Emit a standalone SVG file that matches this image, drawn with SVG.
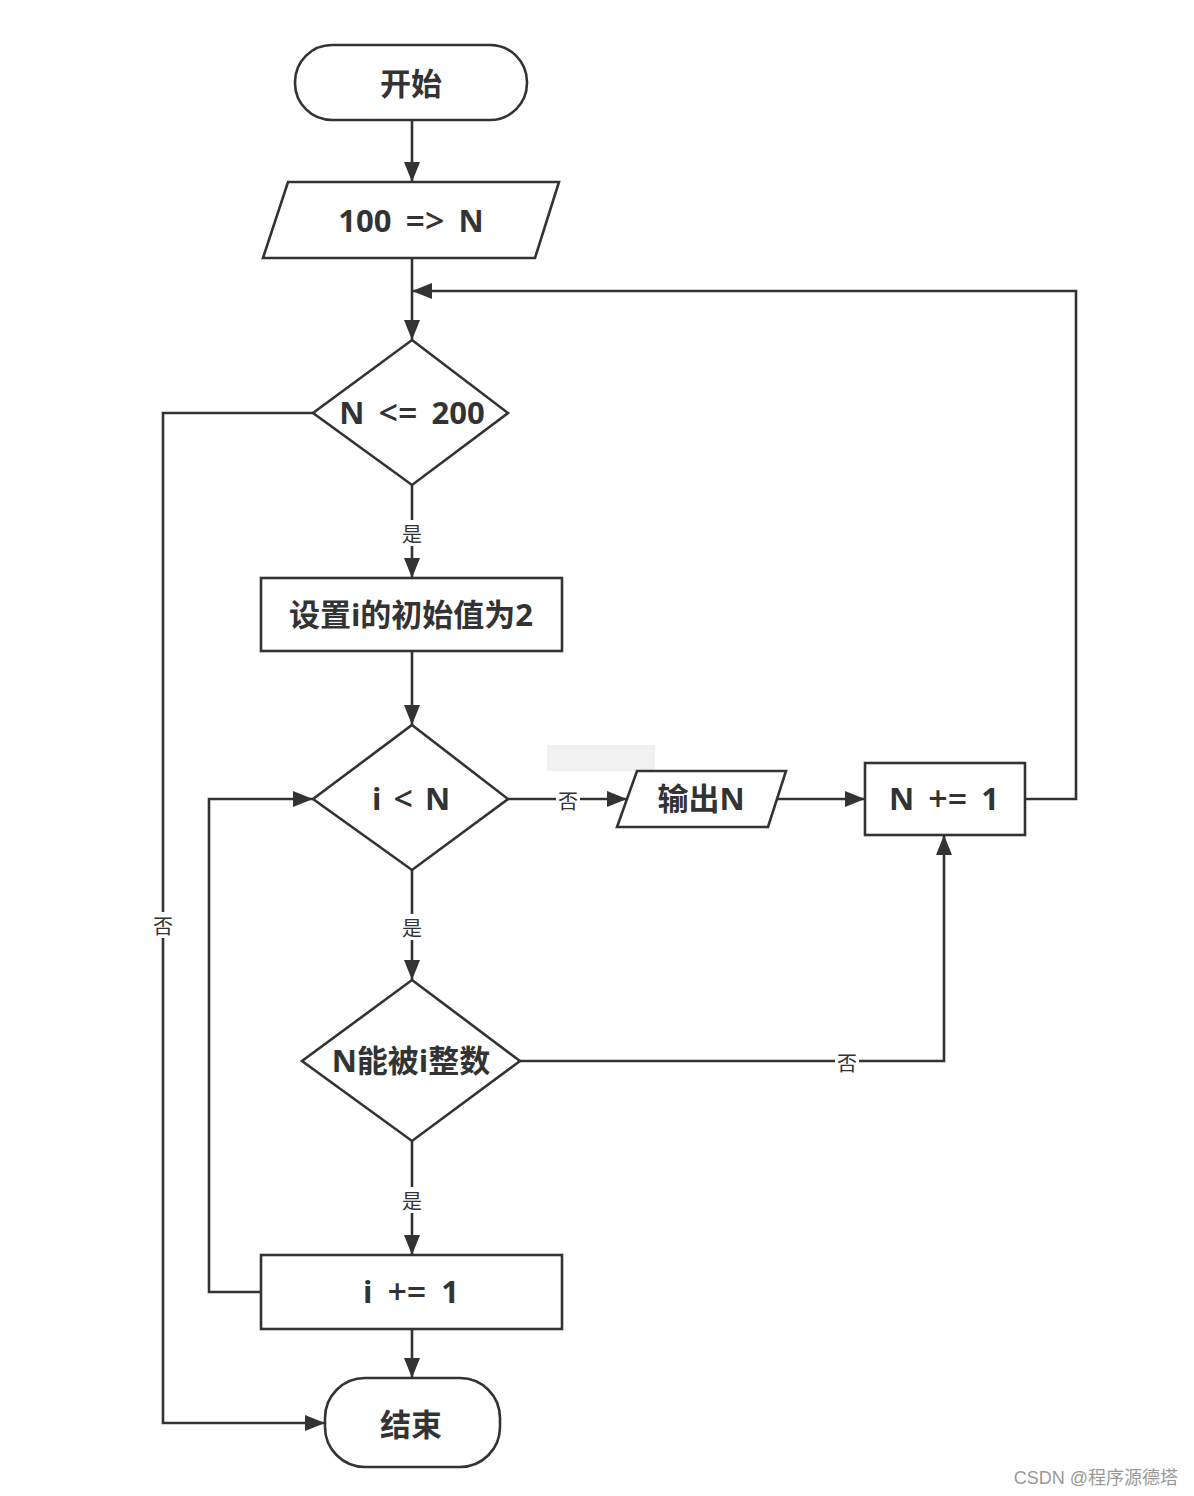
<svg xmlns="http://www.w3.org/2000/svg" width="1194" height="1496" viewBox="0 0 1194 1496">
<defs>
<marker id="arr" viewBox="0 0 20 16" refX="20" refY="8" markerWidth="20" markerHeight="16" markerUnits="userSpaceOnUse" orient="auto">
<path d="M0,0 L20,8 L0,16 Z" fill="#333"/>
</marker>
<style>
.shape{fill:#fff;stroke:#333;stroke-width:2.6}
.line{fill:none;stroke:#333;stroke-width:2.6}
.t{font-family:"Open Sans","Noto Sans CJK SC",sans-serif;font-weight:bold;font-size:31px;fill:#333;text-anchor:middle;dominant-baseline:central}
.op{font-weight:600;font-size:34px}
.lbl{font-family:"Noto Sans CJK SC",sans-serif;font-size:20px;fill:#333;text-anchor:middle;dominant-baseline:central}
.wm{font-family:"Liberation Sans","Noto Sans CJK SC",sans-serif;font-size:18px;fill:#999;text-anchor:end}
</style>
</defs>
<rect width="1194" height="1496" fill="#fff"/>
<g id="connectors">
<path class="line" d="M412,120 L412,182" marker-end="url(#arr)"/>
<path class="line" d="M412,258 L412,340" marker-end="url(#arr)"/>
<path class="line" d="M1025,799 L1076,799 L1076,291 L412,291" marker-end="url(#arr)"/>
<path class="line" d="M313,413 L163,413 L163,1423 L325,1423" marker-end="url(#arr)"/>
<path class="line" d="M412,485 L412,578" marker-end="url(#arr)"/>
<path class="line" d="M412,651 L412,725" marker-end="url(#arr)"/>
<path class="line" d="M508,799 L627,799" marker-end="url(#arr)"/>
<path class="line" d="M777,799 L865,799" marker-end="url(#arr)"/>
<path class="line" d="M412,870 L412,980" marker-end="url(#arr)"/>
<path class="line" d="M520,1061 L944,1061 L944,835" marker-end="url(#arr)"/>
<path class="line" d="M412,1141 L412,1255" marker-end="url(#arr)"/>
<path class="line" d="M261,1292 L209,1292 L209,799 L313,799" marker-end="url(#arr)"/>
<path class="line" d="M412,1329 L412,1378" marker-end="url(#arr)"/>
<g id="labels">
<rect x="400" y="520" width="24" height="26" fill="#fff"/>
<text class="lbl" x="412" y="533">是</text>
<rect x="400" y="914" width="24" height="26" fill="#fff"/>
<text class="lbl" x="412" y="927">是</text>
<rect x="400" y="1187" width="24" height="26" fill="#fff"/>
<text class="lbl" x="412" y="1200">是</text>
<rect x="556" y="787" width="24" height="26" fill="#fff"/>
<text class="lbl" x="568" y="800">否</text>
<rect x="835" y="1048" width="24" height="26" fill="#fff"/>
<text class="lbl" x="847" y="1062">否</text>
<rect x="151" y="912" width="24" height="26" fill="#fff"/>
<text class="lbl" x="163" y="925">否</text>
</g>
</g>
<g id="start">
<rect class="shape" x="295" y="45" width="232" height="75" rx="37" ry="37"/>
<text class="t" x="411" y="83">开始</text>
</g>
<g id="input">
<polygon class="shape" points="288,182 559,182 535,258 263,258"/>
<text class="t" x="411" y="220" word-spacing="6">100 <tspan class="op">=&gt;</tspan> N</text>
</g>
<g id="cond1">
<polygon class="shape" points="412,340 508,413 412,485 313,413"/>
<text class="t" x="412" y="412" word-spacing="6">N <tspan class="op">&lt;=</tspan> 200</text>
</g>
<g id="init">
<rect class="shape" x="261" y="578" width="301" height="73"/>
<text class="t" x="411" y="614">设置i的初始值为2</text>
</g>
<g id="cond2">
<polygon class="shape" points="412,725 508,799 412,870 313,799"/>
<text class="t" x="411" y="798" word-spacing="4">i <tspan class="op">&lt;</tspan> N</text>
</g>
<g id="output">
<rect x="547" y="745" width="108" height="26" fill="#eeeeee" opacity="0.8"/>
<polygon class="shape" points="637,771 786,771 768,827 617,827"/>
<text class="t" x="701" y="798">输出N</text>
</g>
<g id="incN">
<rect class="shape" x="865" y="763" width="160" height="72"/>
<text class="t" x="944" y="798" word-spacing="6">N <tspan class="op">+=</tspan> 1</text>
</g>
<g id="cond3">
<polygon class="shape" points="412,980 520,1061 412,1141 302,1061"/>
<text class="t" x="411" y="1060">N能被i整数</text>
</g>
<g id="inci">
<rect class="shape" x="261" y="1255" width="301" height="74"/>
<text class="t" x="411" y="1291" word-spacing="7">i <tspan class="op">+=</tspan> 1</text>
</g>
<g id="end">
<rect class="shape" x="325" y="1378" width="175" height="89" rx="40" ry="40"/>
<text class="t" x="411" y="1424">结束</text>
</g>
<text class="wm" x="1178" y="1484">CSDN @程序源德塔</text>
</svg>
